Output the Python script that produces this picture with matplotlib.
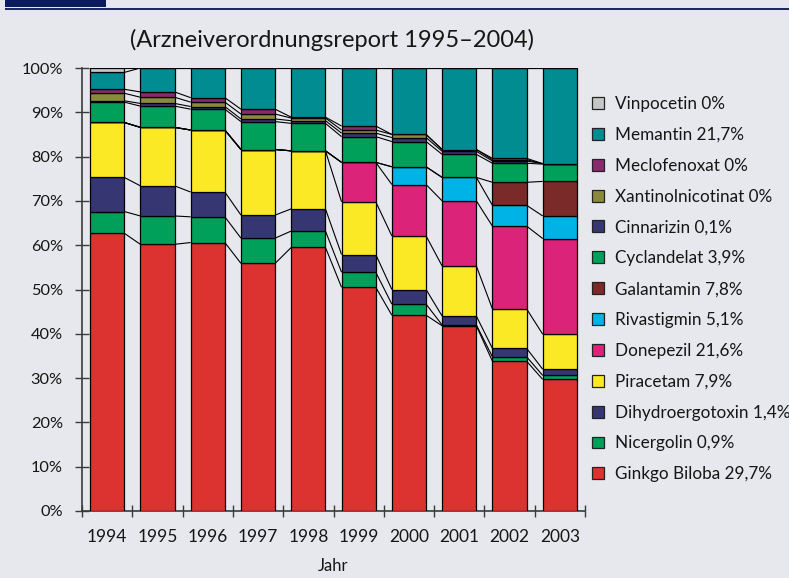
import matplotlib
matplotlib.use("Agg")
import matplotlib.pyplot as plt
from matplotlib.patches import Rectangle, Patch
import numpy as np

plt.rcParams['font.family'] = ['Lato', 'DejaVu Sans']

years = ["1994", "1995", "1996", "1997", "1998", "1999", "2000", "2001", "2002", "2003"]

# stacking order bottom -> top
ginkgo        = [62.7, 60.2, 60.6, 55.9, 59.5, 50.5, 44.2, 41.8, 33.8, 29.7]
nicergolin    = [4.9, 6.4, 5.8, 5.7, 3.7, 3.4, 2.5, 0.2, 1.0, 0.9]
dihydro       = [7.7, 6.8, 5.6, 5.2, 5.0, 4.0, 3.3, 2.0, 1.9, 1.4]
piracetam     = [12.4, 13.2, 14.0, 14.8, 13.1, 11.9, 12.1, 11.3, 8.9, 7.9]
donepezil     = [0, 0, 0, 0, 0, 8.9, 11.6, 14.7, 18.7, 21.6]
rivastigmin   = [0, 0, 0, 0, 0, 0, 4.0, 5.3, 4.7, 5.1]
galantamin    = [0, 0, 0, 0, 0, 0, 0, 0, 5.2, 7.8]
cyclandelat   = [4.6, 4.8, 4.7, 6.3, 6.2, 5.8, 5.7, 5.2, 4.3, 3.9]
cinnarizin    = [0.3, 0.6, 0.6, 0.6, 0.6, 0.8, 0.9, 0.7, 0.5, 0.1]
xantinol      = [1.7, 1.4, 1.0, 1.1, 0.6, 0.7, 0.7, 0.4, 0.3, 0.0]
meclofenoxat  = [0.9, 1.2, 1.0, 1.1, 0.2, 0.9, 0.0, 0.0, 0.3, 0.0]
memantin      = [3.8, 5.4, 6.7, 9.3, 11.1, 13.1, 15.0, 18.4, 20.4, 21.6]
vinpocetin    = [1.0, 0, 0, 0, 0, 0, 0, 0, 0, 0]

series = [ginkgo, nicergolin, dihydro, piracetam, donepezil, rivastigmin,
          galantamin, cyclandelat, cinnarizin, xantinol, meclofenoxat,
          memantin, vinpocetin]
labels = ["Ginkgo Biloba 29,7%", "Nicergolin 0,9%", "Dihydroergotoxin 1,4%",
          "Piracetam 7,9%", "Donepezil 21,6%", "Rivastigmin 5,1%",
          "Galantamin 7,8%", "Cyclandelat 3,9%", "Cinnarizin 0,1%",
          "Xantinolnicotinat 0%", "Meclofenoxat 0%", "Memantin 21,7%",
          "Vinpocetin 0%"]
colors = ["#dd3330", "#00a05a", "#353672", "#fbe925", "#da2379", "#00b3e6",
          "#7b2a2a", "#00a05a", "#353672", "#8a893c", "#8a2a6e", "#008c91",
          "#c4c7c6"]

yticks = [0, 10, 20, 30, 40, 50, 60, 70, 80, 90, 100]

bg = "#e7e8ed"
txt = "#161616"
W, H = 789, 578
fig = plt.figure(figsize=(W / 100, H / 100), dpi=100, facecolor=bg)
ax = fig.add_axes([82 / W, (H - 511) / H, (585 - 82) / W, (511 - 68) / H])
ax.set_facecolor(bg)

x = np.arange(len(years))
bw = 0.68
bottom = np.zeros(len(years))
for vals, c in zip(series, colors):
    v = np.array(vals, dtype=float)
    ax.bar(x, v, bw, bottom=bottom, color=c, edgecolor="black", linewidth=0.9, zorder=3)
    bottom = bottom + v
    # connector lines between bars
    for i in range(len(years) - 1):
        ax.plot([x[i] + bw / 2, x[i + 1] - bw / 2], [bottom[i], bottom[i + 1]],
                color="black", lw=0.8, zorder=2, solid_capstyle="butt")

ax.set_xlim(-0.5, len(years) - 0.5)
ax.set_ylim(0, 100)
for s in ["top", "right"]:
    ax.spines[s].set_visible(False)
for s in ["left", "bottom"]:
    ax.spines[s].set_color("#3a3a3a")
    ax.spines[s].set_linewidth(1.2)

ax.set_yticks(yticks)
ax.set_yticklabels([f"{t}%" for t in yticks])
ax.tick_params(axis="y", direction="inout", length=9.5, width=1.0, color="#3a3a3a",
               labelsize=11.8, pad=9, labelcolor=txt)
ax.set_xticks(np.arange(len(years) + 1) - 0.5)
ax.set_xticklabels([])
ax.set_xticks(x, minor=True)
ax.set_xticklabels(years, minor=True)
ax.tick_params(axis="x", which="major", direction="inout", length=9, width=1.0, color="#3a3a3a")
ax.tick_params(axis="x", which="minor", length=0, labelsize=12.5, pad=13, labelcolor=txt)
ax.set_xlabel("Jahr", fontsize=12, color=txt, labelpad=9)

# legend (top to bottom reversed stacking)
handles = [Patch(facecolor=c, edgecolor="#222222", linewidth=0.9) for c in colors[::-1]]
leg = ax.legend(handles, labels[::-1], loc="upper left", bbox_to_anchor=(592 / W, 1 - 96 / H),
                bbox_transform=fig.transFigure, frameon=False, fontsize=12.3,
                handlelength=0.7, handleheight=0.7, handletextpad=0.62, labelspacing=0.87,
                borderaxespad=0, borderpad=0)
for t in leg.get_texts():
    t.set_color(txt)

# title
fig.text(332 / W, 1 - 40 / H, "(Arzneiverordnungsreport 1995–2004)", ha="center", va="center",
         fontsize=17, color=txt)

# header decoration
fig.patches.append(Rectangle((5 / W, 1 - 7 / H), 101 / W, 7 / H, transform=fig.transFigure,
                             facecolor="#0c1b5e", edgecolor="none"))
fig.patches.append(Rectangle((5 / W, 1 - 10 / H), (W - 5) / W, 2 / H, transform=fig.transFigure,
                             facecolor="#1c2a6a", edgecolor="none"))

fig.savefig("out.png", dpi=100, facecolor=bg)
